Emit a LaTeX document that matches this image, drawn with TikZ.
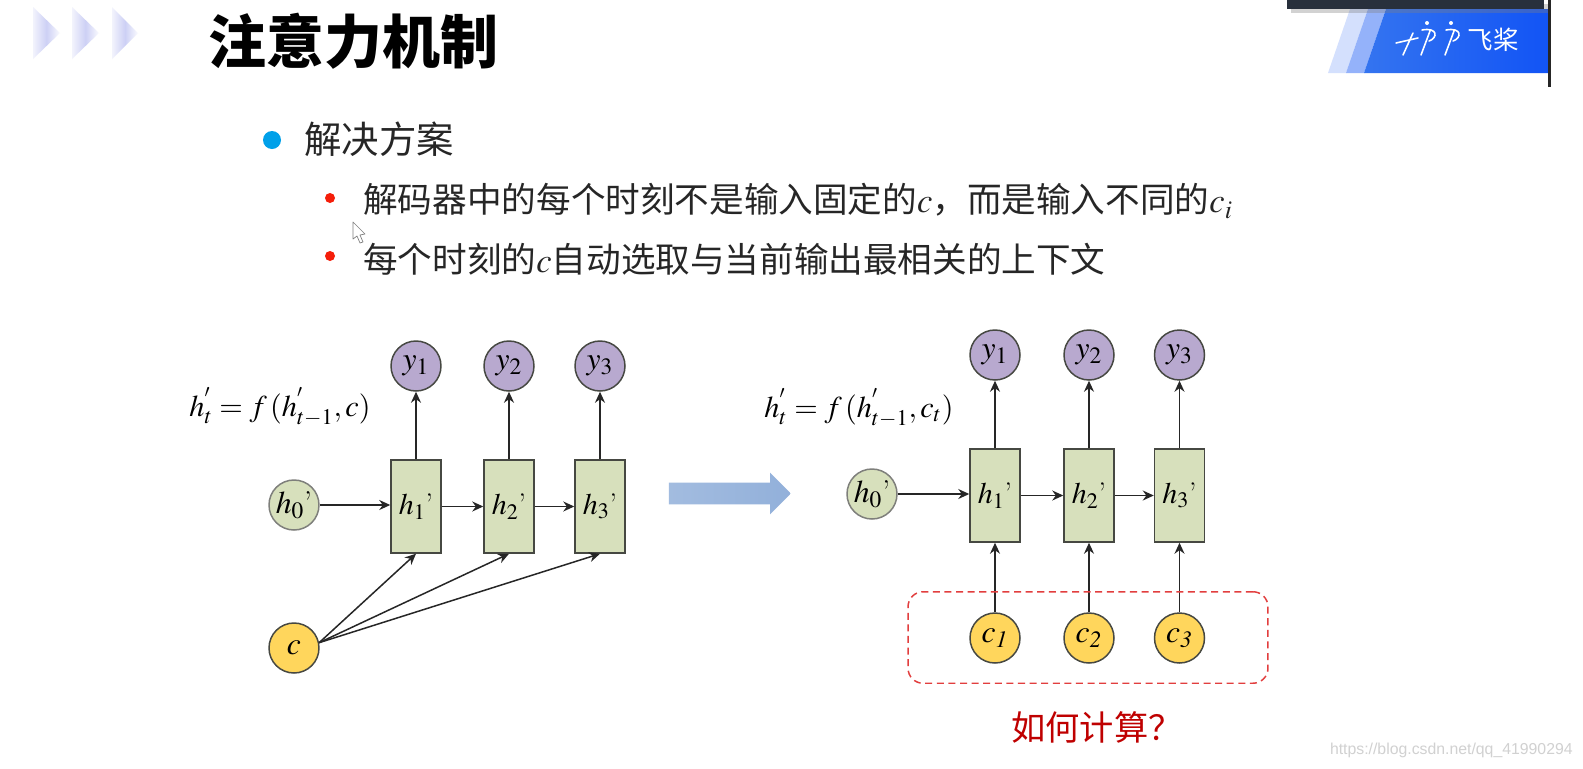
\documentclass[tikz,border=0pt]{standalone}
\usepackage{amsmath}
\usepackage{mathptmx}
\usepackage{fontspec}
\newfontfamily\cjk{Noto Sans CJK SC}
\newfontfamily\webfont{Liberation Sans}
\usetikzlibrary{arrows,arrows.meta,shapes,positioning,shadows}
\definecolor{nngreen}{RGB}{215,224,188}
\definecolor{nnpurple}{RGB}{184,169,207}
\definecolor{nnyellow}{RGB}{255,214,92}
\definecolor{nnedge}{RGB}{70,72,66}
\definecolor{nnred}{RGB}{226,62,62}
\definecolor{nnblue}{RGB}{146,176,218}
\definecolor{logoblue}{RGB}{18,84,245}
\definecolor{logostart}{RGB}{52,116,240}
\definecolor{barcolor}{RGB}{40,48,60}
\definecolor{chevcolor}{RGB}{205,208,245}
\definecolor{dotblue}{RGB}{0,160,233}
\definecolor{dotred}{RGB}{245,30,10}
\tikzstyle{arrow} = [line width=0.85pt,->,>={Stealth[length=2.2mm,width=2mm]},color=black!85]
\tikzstyle{hbox} = [rectangle, minimum width=1cm, minimum height=1.86cm, inner sep=0pt, draw=nnedge, fill=nngreen, line width=0.85pt, font=\fontsize{17}{19}\selectfont]
\tikzstyle{hzero} = [circle, minimum size=1cm, inner sep=0pt, draw=nnedge!70, fill=nngreen, line width=0.85pt, font=\fontsize{18}{20}\selectfont]
\tikzstyle{yout} = [circle, minimum size=1cm, inner sep=0pt, draw=nnedge, fill=nnpurple, line width=0.85pt, font=\fontsize{18}{20}\selectfont]
\tikzstyle{cin} = [circle, minimum size=1cm, inner sep=0pt, draw=nnedge, fill=nnyellow, line width=0.85pt, font=\fontsize{18}{20}\selectfont]
\tikzstyle{formula} = [inner sep=0pt, font=\fontsize{17.2}{20}\selectfont]
\tikzstyle{bodytext} = [anchor=west, inner sep=0pt, font=\cjk\fontsize{19.7}{22}\selectfont, color=black!85]
\tikzstyle{chevron} = [left color=chevcolor!25, right color=chevcolor!10, middle color=chevcolor, shading angle=90]
\tikzstyle{logoline} = [white, line width=0.9pt, line cap=round]

\begin{document}
\begin{tikzpicture}[x=0.02cm,y=-0.02cm]
\useasboundingbox (0,0) rectangle (1583,768);
\fill[white] (0,0) rectangle (1583,768);

% Title bar
\shade[chevron] (33,7) -- (60,33) -- (33,59) -- cycle;
\shade[chevron] (72,7) -- (99,33) -- (72,59) -- cycle;
\shade[chevron] (112,7) -- (138,33) -- (112,59) -- cycle;
\node[anchor=west, inner sep=0pt, font=\cjk\bfseries\fontsize{33}{36}\selectfont] (title) at (208,41) {注意力机制};

% Logo
\fill[logoblue!18] (1328,73) -- (1350,9) -- (1368,9) -- (1346,73) -- cycle;
\fill[logoblue!45] (1346,73) -- (1368,9) -- (1386,9) -- (1364,73) -- cycle;
\shade[left color=logostart, right color=logoblue] (1364,73) -- (1386,9) -- (1548,9) -- (1548,73) -- cycle;
\fill[black!85] (1548,0) rectangle (1551,87);
\fill[barcolor, drop shadow={opacity=0.35}] (1287,0) rectangle (1544,9);
\draw[logoline] (1396,43) -- (1418,38) (1413,33) -- (1403,55);
\draw[logoline] (1421,55) -- (1430,31) (1422,30) .. controls (1438,27) and (1438,38) .. (1429,41);
\draw[logoline] (1445,55) -- (1454,31) (1446,30) .. controls (1462,27) and (1462,38) .. (1453,41);
\fill[white] (1427,23) circle (2) (1451,23) circle (2);
\node[inner sep=0pt, text=white, font=\cjk\fontsize{14.5}{16}\selectfont] (logotext) at (1493,40) {飞桨};

% Bullets
\fill[dotblue] (272,140) circle (9);
\node[anchor=west, inner sep=0pt, font=\cjk\fontsize{21.3}{24}\selectfont, color=black!85] (heading) at (304,139) {解决方案};
\fill[dotred] (330,198) circle (5);
\node[bodytext] (lineone) at (363,201) {解码器中的每个时刻不是输入固定的$c$，而是输入不同的$c_i$};
\fill[dotred] (330,256) circle (5);
\node[bodytext] (linetwo) at (363,259) {每个时刻的$c$自动选取与当前输出最相关的上下文};

% Mouse pointer
\draw[black!50, fill=white, line join=round] (353,222) -- (353,239) -- (357,236) -- (360,243) -- (363,242) -- (360,235) -- (365,234) -- cycle;

% Left model
\node[yout] (y1a) at (416,366) {$y_1$};
\node[yout] (y2a) at (509,366) {$y_2$};
\node[yout] (y3a) at (600,366) {$y_3$};
\node[hbox] (h1a) at (416,506.5) {$h_1$'};
\node[hbox] (h2a) at (509,506.5) {$h_2$'};
\node[hbox] (h3a) at (600,506.5) {$h_3$'};
\node[hzero] (h0a) at (294,505) {$h_0$'};
\node[cin] (ca) at (294,648) {$c$};
\node[formula] (fa) at (280,407) {$h_t^{'}=f\,(h_{t-1}^{'},c)$};

\draw[arrow] (h0a.east) -- (h0a.east -| h1a.west);
\draw[arrow] (h1a.east) -- (h2a.west);
\draw[arrow] (h2a.east) -- (h3a.west);
\draw[arrow] (h1a.north) -- (y1a.south);
\draw[arrow] (h2a.north) -- (y2a.south);
\draw[arrow] (h3a.north) -- (y3a.south);
\draw[arrow] (ca.12) -- (h1a.south);
\draw[arrow] (ca.12) -- (h2a.south);
\draw[arrow] (ca.12) -- (h3a.south);

% Big arrow
\node[single arrow, single arrow head extend=0.2cm, single arrow head indent=0pt, minimum height=2.44cm, inner xsep=0pt, inner ysep=0.21cm, draw=none, left color=nnblue!85, right color=nnblue] (shift) at (724.5,493.5) {};

% Right model
\node[yout] (y1b) at (995,355) {$y_1$};
\node[yout] (y2b) at (1089,355) {$y_2$};
\node[yout] (y3b) at (1179.5,355) {$y_3$};
\node[hbox] (h1b) at (995,495.5) {$h_1$'};
\node[hbox] (h2b) at (1089,495.5) {$h_2$'};
\node[hbox] (h3b) at (1179.5,495.5) {$h_3$'};
\node[hzero] (h0b) at (872,494) {$h_0$'};
\node[cin] (c1b) at (995,638) {$c_{\mathit{1}}$};
\node[cin] (c2b) at (1089,638) {$c_{\mathit{2}}$};
\node[cin] (c3b) at (1179.5,638) {$c_{\mathit{3}}$};
\node[formula] (fb) at (859,408) {$h_t^{'}=f\,(h_{t-1}^{'},c_t)$};

\draw[arrow] (h0b.east) -- (h0b.east -| h1b.west);
\draw[arrow] (h1b.east) -- (h2b.west);
\draw[arrow] (h2b.east) -- (h3b.west);
\draw[arrow] (h1b.north) -- (y1b.south);
\draw[arrow] (h2b.north) -- (y2b.south);
\draw[arrow] (h3b.north) -- (y3b.south);
\draw[arrow] (c1b.north) -- (h1b.south);
\draw[arrow] (c2b.north) -- (h2b.south);
\draw[arrow] (c3b.north) -- (h3b.south);

% Dashed region
\node[rectangle, rounded corners=0.3cm, dash pattern=on 4pt off 2.6pt, draw=nnred, line width=0.85pt, minimum width=7.2cm, minimum height=1.83cm, inner sep=0pt] (region) at (1088,637.5) {};
\node[anchor=west, inner sep=0pt, text=red!75!black, font=\cjk\fontsize{19.5}{22}\selectfont] (question) at (1011,727) {如何计算？};

% Watermark
\node[anchor=east, inner sep=0pt, text=black!18, font=\webfont\fontsize{9}{11}\selectfont] (watermark) at (1573,750) {https://blog.csdn.net/qq\_41990294};
\end{tikzpicture}
\end{document}
